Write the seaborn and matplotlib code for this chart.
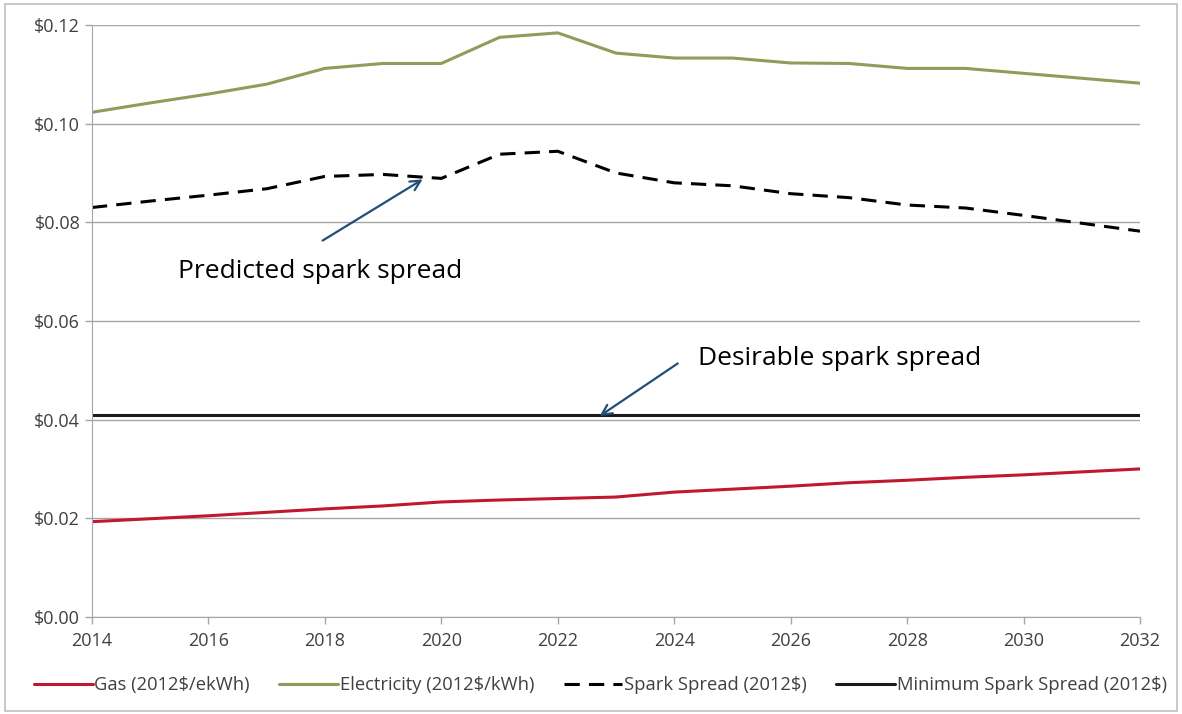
import numpy as np
import pandas as pd
import matplotlib
matplotlib.use("Agg")
import matplotlib.pyplot as plt
import seaborn as sns
from matplotlib.patches import Rectangle

# Data
years = list(range(2014, 2033))
gas = [0.0193, 0.0199, 0.0205, 0.0212, 0.0219, 0.0225, 0.0233, 0.0237, 0.0240, 0.0243,
       0.0253, 0.0259, 0.0265, 0.0272, 0.0277, 0.0283, 0.0288, 0.0294, 0.0300]
electricity = [0.1023, 0.1042, 0.1060, 0.1080, 0.1112, 0.1122, 0.1122, 0.1175, 0.1184, 0.1143,
               0.1133, 0.1133, 0.1123, 0.1122, 0.1112, 0.1112, 0.1102, 0.1092, 0.1082]
spark = [0.0830, 0.0843, 0.0855, 0.0868, 0.0893, 0.0897, 0.0889, 0.0938, 0.0944, 0.0900,
         0.0880, 0.0874, 0.0858, 0.0850, 0.0835, 0.0829, 0.0814, 0.0798, 0.0782]
min_spark = [0.041] * len(years)

labels = ["Gas (2012$/ekWh)", "Electricity (2012$/kWh)", "Spark Spread (2012$)",
          "Minimum Spark Spread (2012$)"]

sns.set_style("white")
plt.rcParams['font.family'] = ['Open Sans', 'DejaVu Sans']

fig = plt.figure(figsize=(11.82, 7.14), dpi=100)
ax = fig.add_axes([0.0778, 0.136, 0.8867, 0.829])

# outer chart frame
fig.patches.append(Rectangle((0.004, 0.004), 0.992, 0.99, transform=fig.transFigure,
                             fill=False, edgecolor='#bfbfbf', lw=1.2))

sns.lineplot(x=years, y=gas, ax=ax, color='#c0182c', lw=2.2, label=labels[0])
sns.lineplot(x=years, y=electricity, ax=ax, color='#8f9c5a', lw=2.2, label=labels[1])
sns.lineplot(x=years, y=spark, ax=ax, color='black', lw=2.2, label=labels[2])
ax.lines[-1].set_dashes([5, 3])
sns.lineplot(x=years, y=min_spark, ax=ax, color='#1a1a1a', lw=2.2, label=labels[3])

ax.set_xlim(2014, 2032)
ax.set_ylim(0, 0.12)
ax.set_xticks(range(2014, 2033, 2))
ax.set_yticks(np.arange(0, 0.121, 0.02))
ax.yaxis.set_major_formatter(plt.FuncFormatter(lambda y, _: 'S{:.2f}'.format(y).replace('S', '$')))
ax.grid(axis='y', color='#a6a6a6', lw=1)
ax.set_axisbelow(True)
for s in ['top', 'right']:
    ax.spines[s].set_visible(False)
for s in ['left', 'bottom']:
    ax.spines[s].set_color('#a6a6a6')
ax.tick_params(axis='both', colors='#404040', labelsize=13, length=5, width=1,
               color='#a6a6a6', direction='out', left=True, bottom=True)
ax.tick_params(axis='x', pad=6)

# annotations
arrow = dict(arrowstyle='->', color='#1f4e79', lw=1.6, mutation_scale=18)
ax.annotate('', xy=(2019.72, 0.089), xytext=(2017.92, 0.076), arrowprops=arrow)
ax.text(2017.92, 0.0700, 'Predicted spark spread', fontsize=19, ha='center', va='center',
        color='black')
ax.annotate('', xy=(2022.68, 0.0404), xytext=(2024.1, 0.0517), arrowprops=arrow)
ax.text(2024.4, 0.0523, 'Desirable spark spread', fontsize=19, ha='left', va='center',
        color='black')

leg = ax.legend(loc='upper center', bbox_to_anchor=(0.485, -0.072), ncol=4, frameon=False,
                fontsize=13.2, handlelength=3.2, handletextpad=0.1, columnspacing=1.6)
for t in leg.get_texts():
    t.set_color('#404040')

fig.savefig('out.png', dpi=100)
